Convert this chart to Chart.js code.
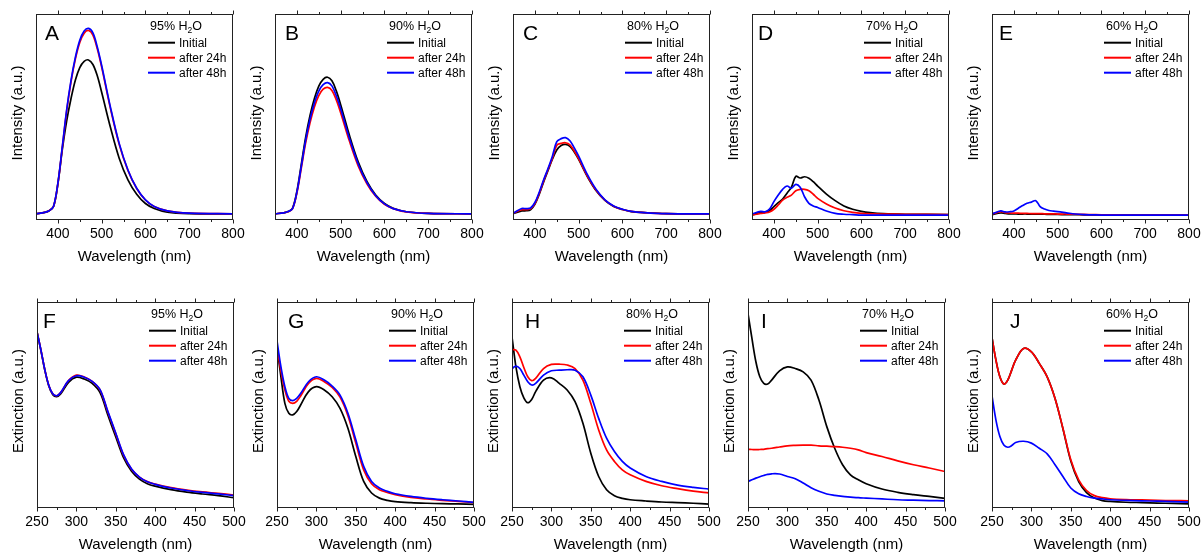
<!DOCTYPE html>
<html><head><meta charset="utf-8">
<script src="https://cdn.jsdelivr.net/npm/chart.js@4.4.0/dist/chart.umd.min.js"></script>
<style>
html,body{margin:0;padding:0;background:#fff;}
body{width:1204px;height:552px;overflow:hidden;position:relative;}
</style>
</head><body>
<script>
// ---------- DATA ----------
const EM_WL = [350,370,380,390,400,410,420,430,440,450,460,470,480,490,500,520,540,560,580,600,620,650,700,800];
const EM_TICKS = [400,500,600,700,800];
const EM_MINOR = [450,550,650,750];
const EX_WL = [250,255,260,265,270,275,280,290,300,310,320,330,340,350,360,370,380,390,400,420,440,460,480,500];
const EX_TICKS = [250,300,350,400,450,500];
const EX_MINOR = [275,325,375,425,475];
const SERIES_LABELS = ['Initial','after 24h','after 48h'];
const WATER = ['95%','90%','80%','70%','60%'];
const LETTERS = ['A','B','C','D','E','F','G','H','I','J'];

// Emission (relative intensity, 0-100 of panel height)
const A_INITIAL = [3,3.7,4.5,6.5,17.5,34,48,59,68,74,77,77.7,75.5,70,62,45,30,19.5,12.5,8,5.6,3.8,3.1,3];
const A_24H     = [3,3.7,4.5,6.5,17.7,35,52.8,67.1,78.2,86.2,90.7,92,89.8,83.1,74.2,54.2,36.8,24.1,15.3,9.7,6.5,4.4,3.3,3];
const A_48H     = [3,3.7,4.5,6.6,17.9,35.4,53.4,67.8,79,87.2,91.7,93,90.8,84,75,54.8,37.2,24.3,15.4,9.8,6.6,4.4,3.3,3];

const B_INITIAL = [3,3.5,4.1,5.7,13.9,26.9,40.1,50.7,59,65,68.3,69.3,67.6,62.7,56,41.1,28.2,18.7,12.1,8,5.7,4,3.2,3];
const B_24H     = [3,3.5,4,5.5,13.1,25.1,37.4,47.2,54.9,60.4,63.5,64.4,62.9,58.3,52.1,38.3,26.3,17.6,11.5,7.6,5.5,3.9,3.2,3];
const B_48H     = [3,3.5,4.1,5.5,13.5,25.9,38.7,48.9,56.8,62.6,65.7,66.7,65.1,60.3,54,39.6,27.2,18.1,11.8,7.8,5.5,4,3.2,3];

const C_INITIAL = [3,4.4,4.5,5,7.6,12.5,18.5,24,29.5,34,36.2,36.7,35.8,33,29.4,21,14.2,9.5,6.6,5.1,4.1,3.6,3.1,3];
const C_24H     = [3.2,5,5,5.4,8,13,19,24.5,30,36.3,37.2,37.5,36.5,33.5,29.8,21.3,14.4,9.6,6.7,5.1,4.2,3.6,3.1,3];
const C_48H     = [3.2,5.6,5.5,5.8,8.5,13.5,19.5,25,31,38,39.5,40,38.5,35,31,22,14.8,9.8,6.8,5.2,4.2,3.6,3.1,3];

const D_INITIAL = [2.4,3.7,3.9,4.5,6.5,8.4,10.2,13,15.9,21.2,20.4,21,20.3,18.6,16.5,12.6,9.4,6.8,5.2,4.2,3.6,3.1,2.8,2.6];
const D_24H     = [2.4,3.2,3.5,3.9,5.2,7.3,9.7,11,12.1,14.2,14.9,14.9,14.2,12.5,10.5,7.8,5.8,4.5,3.7,3.2,3,2.9,2.8,2.6];
const D_48H     = [2.9,4.2,4,5.3,8.9,12.1,14.9,16.5,15.4,17.3,15.9,11.3,8.1,6.8,6.1,4.4,3.2,2.8,2.6,2.4,2.4,2.4,2.4,2.4];

const E_INITIAL = [2.6,3.4,3.2,3,3,2.9,2.9,2.9,2.8,2.8,2.8,2.8,2.7,2.7,2.7,2.6,2.6,2.5,2.5,2.4,2.4,2.4,2.4,2.4];
const E_24H     = [2.9,4,3.6,3.4,3.3,3.3,3.2,3.2,3.1,3.1,3.1,3,3,3,2.9,2.9,2.8,2.7,2.6,2.5,2.5,2.4,2.4,2.4];
const E_48H     = [2.9,4.4,3.9,4,4.4,5.7,7,8.1,8.7,9.4,6.5,5.3,4.6,4.3,4.1,3.5,2.9,2.6,2.5,2.4,2.4,2.4,2.4,2.4];

// Extinction (relative, 0-100 of panel height)
const F_INITIAL = [85.5,76.5,66.8,59.2,55,54,55.3,61,63.5,62.6,60.5,56,45,34.5,24.3,17.8,14,11.8,10.6,8.9,7.7,6.8,6,5];
const F_24H     = [85.5,76.6,67,59.5,55.5,54.5,56,61.8,64.5,63.6,61.5,57.3,46.5,36,25.5,18.8,15,12.8,11.6,9.9,8.7,7.8,7.1,6.3];
const F_48H     = [85.5,76.6,67,59.5,55.5,54.5,56,61.8,64.2,63.5,61.5,57.5,46.8,36.3,25.8,18.9,15,12.7,11.5,9.7,8.5,7.6,6.9,6];

const G_INITIAL = [78.2,63.7,50.8,46,45.2,46.8,50,56.5,58.9,57.3,54,48.4,38.7,25,12.9,7.3,4.8,3.7,3.1,2.6,2.3,2.1,2,1.8];
const G_24H     = [78.2,66.5,57.3,51.8,50.8,51.8,54.4,60.5,62.9,61.3,58.5,53.8,44.8,31.5,18.5,11.8,8.9,7.6,6.5,5.2,4.4,3.7,3.2,2.6];
const G_48H     = [81.1,68.5,58.9,53.2,52.1,53.2,55.6,61.3,63.7,62.1,59.2,54.8,46,33.1,20.2,12.9,9.7,8.1,6.9,5.6,4.7,4,3.4,2.7];

const H_INITIAL = [83.1,68.5,58.9,53.5,51.1,52.7,56.5,62.1,63.2,60.5,57.3,51.6,41.1,26.6,15.3,8.9,6,4.7,4,3.4,2.9,2.6,2.3,1.9];
const H_24H     = [76.9,76.6,73.4,68.2,63.7,61.8,62.9,67.7,69.7,69.8,69.4,67.7,62.1,50.8,37.9,28.2,22.6,18.5,16.1,12.9,10.8,9.4,8.2,7.3];
const H_48H     = [67.7,68.9,67.7,64.5,61.3,59.7,60.5,64.5,66.6,66.9,67.1,66.9,63.7,54.8,43.5,33.9,27.4,22.6,19.4,15.3,12.9,11.1,10,9.2];

const I_INITIAL = [94.4,82.3,71,63.7,60.5,60.2,62.1,66.6,68.5,67.7,66.1,62.1,52.4,39.5,29,21,16.1,13.7,11.8,9.2,7.6,6.5,5.6,4.7];
const I_24H     = [28.5,28.4,28.3,28.4,28.5,28.8,29,29.6,30.2,30.4,30.5,30.5,30.2,30,29.8,29.5,29,28.2,26.9,25,22.9,21,19.4,17.7];
const I_48H     = [12.9,13.7,14.5,15.2,15.8,16.3,16.6,16.5,15.3,14.2,12.1,9.8,8.1,6.8,6.1,5.6,5.3,5,4.8,4.4,4,3.8,3.6,3.5];

const J_INITIAL = [82.7,71.8,63.7,60.2,62.1,66.9,71.8,77.4,75.8,70.2,63.7,53.2,38.5,22.8,12.8,7.5,4.8,3.6,3.2,2.8,2.6,2.4,2.2,2];
const J_24H     = [82.7,71.8,63.7,60.2,62.1,66.9,71.8,77.4,75.8,70.2,63.7,53.2,38.7,23.4,13.7,8.5,6,5,4.5,4.1,3.9,3.7,3.6,3.5];
const J_48H     = [54.4,42.7,34.7,30.6,29.5,30.3,31.8,32.4,31.5,29,26.3,21,15.3,9.7,6.9,5.6,4.8,4.4,4,3.7,3.5,3.3,3.1,2.9];

const PANEL_SERIES = [
  [A_INITIAL,A_24H,A_48H],[B_INITIAL,B_24H,B_48H],[C_INITIAL,C_24H,C_48H],[D_INITIAL,D_24H,D_48H],[E_INITIAL,E_24H,E_48H],
  [F_INITIAL,F_24H,F_48H],[G_INITIAL,G_24H,G_48H],[H_INITIAL,H_24H,H_48H],[I_INITIAL,I_24H,I_48H],[J_INITIAL,J_24H,J_48H]
];

// ---------- LAYOUT / STYLE ----------
const FONT = "'Liberation Sans', Arial, Helvetica, sans-serif";
const COLORS = ['#000000','#ff0000','#0000ff'];
const PLOT_W = 197, PLOT_H = 206, AX_W = 36, AX_H = 50, PAD_T = 14, PAD_R = 22;
const LAYOUT = [
  {left:36, top:14, ldx:9},{left:275, top:14, ldx:10},{left:513, top:14, ldx:10},{left:752, top:14, ldx:6},{left:992, top:14, ldx:7},
  {left:37, top:302, ldx:6},{left:277, top:302, ldx:11},{left:512, top:302, ldx:13},{left:748, top:302, ldx:13},{left:992, top:302, ldx:18}
];

const decoPlugin = {
  id: 'deco',
  afterDraw(chart, args, o) {
    const {ctx, chartArea: a} = chart;
    const x = chart.scales.x;
    const L = Math.round(a.left) + 0.5, R = Math.round(a.right) - 0.5;
    const T = Math.round(a.top) + 0.5, B = Math.round(a.bottom) - 0.5;
    ctx.save();
    ctx.strokeStyle = '#222'; ctx.lineWidth = 1;
    ctx.strokeRect(L, T, R - L, B - T);
    const tick = (v, len) => {
      const px = Math.round(x.getPixelForValue(v)) + 0.5;
      ctx.beginPath();
      ctx.moveTo(px, B); ctx.lineTo(px, B + len);
      ctx.moveTo(px, T); ctx.lineTo(px, T - len);
      ctx.stroke();
    };
    o.major.forEach(v => tick(v, 4));
    o.minor.forEach(v => tick(v, 2.5));
    ctx.fillStyle = '#000';
    // y-axis title
    ctx.save();
    ctx.translate(a.left - 18.5, (a.top + a.bottom) / 2 - 4);
    ctx.rotate(-Math.PI / 2);
    ctx.textAlign = 'center'; ctx.textBaseline = 'middle';
    ctx.font = `15px ${FONT}`;
    ctx.fillText(o.ytitle, 0, 0);
    ctx.restore();
    // panel letter
    ctx.textAlign = 'left'; ctx.textBaseline = 'alphabetic';
    ctx.font = `21px ${FONT}`;
    ctx.fillText(o.letter, a.left + o.ldx, a.top + 26);
    // legend header
    const hx = a.right - 83, hy = a.top + 15.5;
    ctx.font = `12.5px ${FONT}`;
    const s1 = `${o.water} H`;
    ctx.fillText(s1, hx, hy);
    const w1 = ctx.measureText(s1).width;
    ctx.font = `8.5px ${FONT}`;
    ctx.fillText('2', hx + w1, hy + 3);
    const w2 = ctx.measureText('2').width;
    ctx.font = `12.5px ${FONT}`;
    ctx.fillText('O', hx + w1 + w2, hy);
    // legend entries
    ctx.font = `12px ${FONT}`;
    ctx.textBaseline = 'middle';
    chart.data.datasets.forEach((ds, i) => {
      const y = a.top + 28.7 + 15 * i;
      ctx.strokeStyle = ds.borderColor; ctx.lineWidth = 2;
      ctx.beginPath(); ctx.moveTo(a.right - 85, y); ctx.lineTo(a.right - 58, y); ctx.stroke();
      ctx.fillStyle = '#000';
      ctx.fillText(ds.label, a.right - 54, y + 0.5);
    });
    ctx.restore();
  }
};

PANEL_SERIES.forEach((series, i) => {
  const Lo = LAYOUT[i];
  const em = i < 5;
  const wl = em ? EM_WL : EX_WL;
  const ticks = em ? EM_TICKS : EX_TICKS;
  const W = AX_W + PLOT_W + PAD_R, H = PAD_T + PLOT_H + AX_H;
  const c = document.createElement('canvas');
  c.width = W; c.height = H;
  c.style.cssText = `position:absolute;left:${Lo.left - AX_W}px;top:${Lo.top - PAD_T}px;width:${W}px;height:${H}px;`;
  document.body.appendChild(c);
  const datasets = series.map((arr, k) => ({
    label: SERIES_LABELS[k],
    data: arr.map((v, j) => ({x: wl[j], y: v})),
    borderColor: COLORS[k],
    borderWidth: 1.7,
    pointRadius: 0,
    fill: false,
    tension: 0.35,
    order: 2 - k
  }));
  new Chart(c, {
    type: 'line',
    data: {datasets},
    plugins: [decoPlugin],
    options: {
      responsive: false, animation: false, devicePixelRatio: 1,
      layout: {padding: {top: PAD_T, right: PAD_R, left: 0, bottom: 0}},
      plugins: {
        legend: {display: false}, tooltip: {enabled: false},
        deco: {letter: LETTERS[i], water: WATER[i % 5], ldx: Lo.ldx,
               ytitle: em ? 'Intensity (a.u.)' : 'Extinction (a.u.)',
               major: ticks, minor: em ? EM_MINOR : EX_MINOR}
      },
      scales: {
        x: {
          type: 'linear', min: em ? 350 : 250, max: em ? 800 : 500,
          afterBuildTicks: s => { s.ticks = ticks.map(v => ({value: v})); },
          afterFit: s => { s.height = AX_H; },
          grid: {display: false, drawTicks: false},
          border: {display: false},
          ticks: {font: {size: 14, family: FONT}, color: '#000', padding: 6, maxRotation: 0, autoSkip: false},
          title: {display: true, text: 'Wavelength (nm)', color: '#000', font: {size: 15, family: FONT}, padding: {top: 0, bottom: 4}}
        },
        y: {
          min: 0, max: 100,
          afterFit: s => { s.width = AX_W; },
          grid: {display: false, drawTicks: false},
          border: {display: false},
          ticks: {display: false},
          title: {display: false}
        }
      }
    }
  });
});
</script>
</body></html>
